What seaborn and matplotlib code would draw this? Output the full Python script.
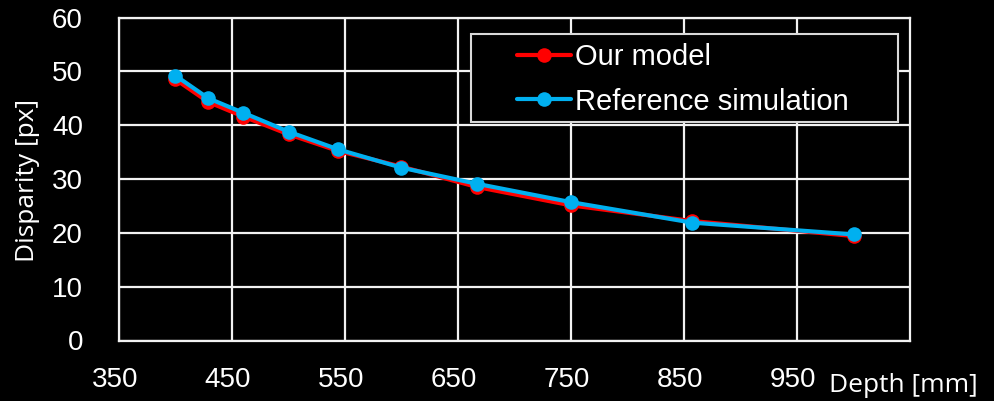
import matplotlib
matplotlib.use("Agg")
import matplotlib.pyplot as plt
import matplotlib.transforms as mtransforms
from matplotlib.patches import Rectangle
import seaborn as sns
import pandas as pd

# Disparity versus depth for the analytic model and the reference simulation
depth_mm = [400, 429, 460, 500, 544, 600, 667, 750, 857, 1000]
our_model = [48.5, 44.3, 41.6, 38.3, 35.2, 32.3, 28.5, 25.1, 22.2, 19.4]
reference_sim = [49.2, 45.0, 42.3, 38.8, 35.5, 32.1, 29.1, 25.7, 21.9, 19.7]
series_names = ["Our model", "Reference simulation"]
series_colors = ["#FF0000", "#00B0F0"]
x_ticks = [350, 450, 550, 650, 750, 850, 950]
y_ticks = [0, 10, 20, 30, 40, 50, 60]

df = pd.DataFrame({
    "depth": depth_mm * 2,
    "disparity": our_model + reference_sim,
    "series": [series_names[0]] * len(depth_mm) + [series_names[1]] * len(depth_mm),
})

sns.set_theme(style="dark")
plt.rcParams["font.family"] = ["Liberation Sans", "DejaVu Sans"]

W, H = 994, 401
fig = plt.figure(figsize=(W / 100, H / 100), dpi=100, facecolor="black")
ax = fig.add_axes([119 / W, 1 - 340.5 / H, (910 - 119) / W, (340.5 - 17.5) / H])
ax.set_facecolor("black")

sns.lineplot(
    data=df, x="depth", y="disparity", hue="series",
    hue_order=series_names, palette=series_colors,
    marker="o", markersize=10.5, markeredgewidth=0,
    linewidth=3, ax=ax, legend=False, zorder=3,
)

ax.set_xlim(350, 1050)
ax.set_ylim(0, 60)
ax.set_xticks(x_ticks)
ax.set_yticks(y_ticks)
ax.set_xlabel("")
ax.set_ylabel("")

grid_color = "#f2f2f2"
ax.set_axisbelow(True)
ax.grid(True, color=grid_color, linewidth=1.6)
for side in ["left", "right", "top", "bottom"]:
    ax.spines[side].set_visible(True)
    ax.spines[side].set_color(grid_color)
    ax.spines[side].set_linewidth(1.6)

ax.tick_params(axis="x", length=0, pad=19, labelsize=20, labelcolor="white")
ax.tick_params(axis="y", length=0, pad=26, labelsize=20, labelcolor="white")
shift = mtransforms.ScaledTranslation(-4 / 100, 0, fig.dpi_scale_trans)
for lbl in ax.get_xticklabels():
    lbl.set_transform(lbl.get_transform() + shift)

# Axis titles
fig.text(28 / W, 1 - 180 / H, "Disparity [px]", rotation=90, ha="center", va="center",
         color="white", fontsize=19, family=["Open Sans", "DejaVu Sans"])
fig.text(829 / W, 1 - 392 / H, "Depth [mm]", ha="left", va="baseline",
         color="white", fontsize=19, family=["Open Sans", "DejaVu Sans"])

# Legend box and entries
box = Rectangle((471 / W, 1 - 122 / H), 427 / W, 88 / H, transform=fig.transFigure,
                facecolor="black", edgecolor="#d9d9d9", linewidth=1.5, zorder=4)
ax.add_artist(box)
leg = ax.legend(
    handles=ax.lines[:2], labels=series_names,
    loc="center left", bbox_to_anchor=(517 / W, 1 - 79.5 / H),
    bbox_transform=fig.transFigure, frameon=False, fontsize=21,
    handlelength=1.85, handletextpad=0.15, labelspacing=0.55,
    borderpad=0, borderaxespad=0,
)
leg.set_zorder(5)
for t in leg.get_texts():
    t.set_color("white")

fig.savefig("out.png", dpi=100, facecolor="black")
